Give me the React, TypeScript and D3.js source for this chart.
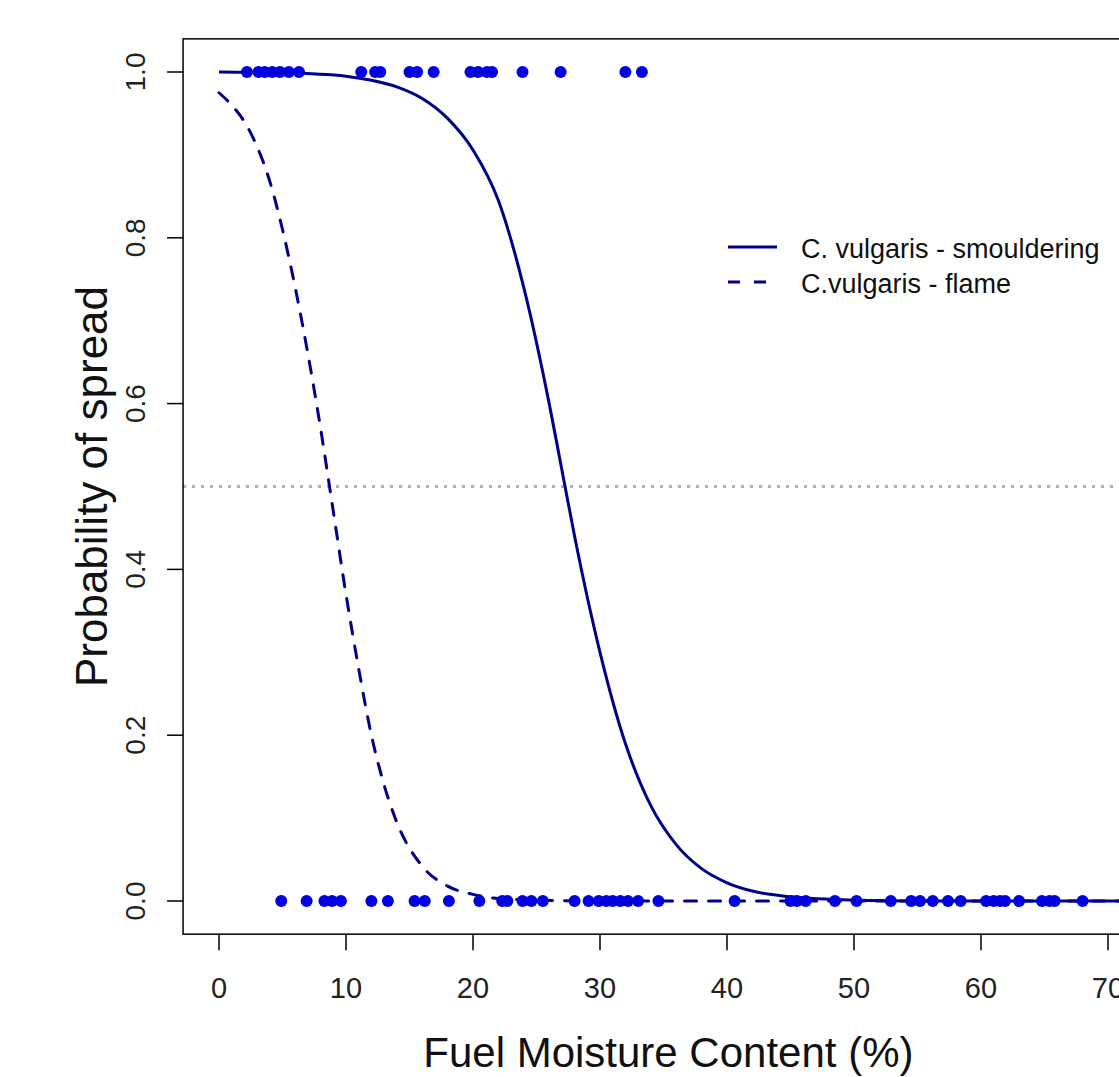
import React, { useRef, useEffect } from 'react';
import * as d3 from 'd3';

// observed spread (1) / no spread (0) at fuel moisture content (%)
const spreadX = [2.2, 3.1, 3.6, 4.2, 4.8, 5.5, 6.3, 11.2, 12.3, 12.7, 15.0, 15.6, 16.9, 19.8, 20.4, 21.1, 21.5, 23.9, 26.9, 32.0, 33.3];
const noSpreadX = [4.9, 6.9, 8.3, 8.9, 9.6, 12.0, 13.3, 15.4, 16.2, 18.1, 20.5, 22.3, 22.7, 23.9, 24.6, 25.5, 28.0, 29.1, 29.9, 30.5, 31.0, 31.6, 32.2, 33.0, 34.6,
  40.6, 45.0, 45.5, 46.2, 48.5, 50.2, 52.9, 54.5, 55.2, 56.2, 57.4, 58.4, 60.4, 61.0, 61.5, 61.9, 63.0, 64.8, 65.4, 65.8, 68.0];

// fitted curves
const smoulderX = [0, 5, 10, 12, 14, 16, 18, 20, 22, 24, 26, 27, 28, 30, 32, 34, 36, 38, 40, 42, 45, 50, 55, 60, 65, 72];
const smoulderP = [1.0, 0.999, 0.995, 0.99, 0.982, 0.968, 0.944, 0.906, 0.845, 0.74, 0.6, 0.52, 0.44, 0.3, 0.19, 0.115, 0.068, 0.039, 0.022, 0.012, 0.005, 0.001, 0, 0, 0, 0];
const flameX = [0, 1, 2, 3, 4, 5, 6, 7, 8, 9, 10, 11, 12, 13, 14, 16, 18, 20, 22, 25, 30, 40, 50, 60, 72];
const flameP = [0.975, 0.96, 0.94, 0.91, 0.868, 0.81, 0.74, 0.66, 0.57, 0.47, 0.37, 0.28, 0.2, 0.14, 0.095, 0.042, 0.018, 0.008, 0.003, 0.001, 0, 0, 0, 0, 0];

const xTicks = [0, 10, 20, 30, 40, 50, 60, 70];
const yTicks = [0, 0.2, 0.4, 0.6, 0.8, 1.0];

const W = 1119;
const H = 1077;
const font = '"Liberation Sans", Arial, sans-serif';
const lineColor = '#00008b';

const App = () => {
  const svgRef = useRef<SVGSVGElement>(null);

  useEffect(() => {
    const svg = d3.select(svgRef.current);
    svg.selectAll('*').remove();

    const x = d3.scaleLinear().domain([0, 70]).range([219, 1108]);
    const y = d3.scaleLinear().domain([0, 1]).range([901, 72]);
    const left = x(-2.83), right = x(73.6), top = y(1.04), bottom = y(-0.04);

    svg.append('rect').attr('width', W).attr('height', H).attr('fill', '#fff');

    // 0.5 reference line
    svg.append('line')
      .attr('x1', left).attr('x2', right)
      .attr('y1', y(0.5)).attr('y2', y(0.5))
      .attr('stroke', '#b0b0b0').attr('stroke-width', 3)
      .attr('stroke-dasharray', '3,6');

    const line = d3.line<[number, number]>()
      .x(d => x(d[0])).y(d => y(d[1]))
      .curve(d3.curveMonotoneX);

    svg.append('path')
      .attr('d', line(flameX.map((v, i) => [v, flameP[i]])))
      .attr('fill', 'none').attr('stroke', lineColor).attr('stroke-width', 3)
      .attr('stroke-linecap', 'round')
      .attr('stroke-dasharray', '12,12');

    svg.append('path')
      .attr('d', line(smoulderX.map((v, i) => [v, smoulderP[i]])))
      .attr('fill', 'none').attr('stroke', lineColor).attr('stroke-width', 3);

    // observations
    svg.append('g').selectAll('circle')
      .data([...spreadX.map(v => [v, 1]), ...noSpreadX.map(v => [v, 0])])
      .enter().append('circle')
      .attr('cx', d => x(d[0])).attr('cy', d => y(d[1]))
      .attr('r', 6).attr('fill', '#0000e0');

    // box
    svg.append('rect')
      .attr('x', left).attr('y', top)
      .attr('width', right - left).attr('height', bottom - top)
      .attr('fill', 'none').attr('stroke', '#000').attr('stroke-width', 1.5);

    // x axis
    const gx = svg.append('g');
    xTicks.forEach(t => {
      gx.append('line').attr('x1', x(t)).attr('x2', x(t))
        .attr('y1', bottom).attr('y2', bottom + 16)
        .attr('stroke', '#000').attr('stroke-width', 1.5);
      gx.append('text').attr('x', x(t)).attr('y', 998)
        .attr('text-anchor', 'middle').attr('font-family', font)
        .attr('font-size', 29).attr('fill', '#222').text(t);
    });

    // y axis
    const gy = svg.append('g');
    yTicks.forEach(t => {
      gy.append('line').attr('x1', left - 16).attr('x2', left)
        .attr('y1', y(t)).attr('y2', y(t))
        .attr('stroke', '#000').attr('stroke-width', 1.5);
      gy.append('text')
        .attr('transform', `translate(145,${y(t)})rotate(-90)`)
        .attr('text-anchor', 'middle').attr('font-family', font)
        .attr('font-size', 28).attr('fill', '#222').text(t.toFixed(1));
    });

    // titles
    svg.append('text').attr('x', (left + right) / 2).attr('y', 1067)
      .attr('text-anchor', 'middle').attr('font-family', font)
      .attr('font-size', 42).attr('fill', '#111')
      .text('Fuel Moisture Content (%)');
    svg.append('text')
      .attr('transform', `translate(107,${(top + bottom) / 2})rotate(-90)`)
      .attr('text-anchor', 'middle').attr('font-family', font)
      .attr('font-size', 44).attr('fill', '#111')
      .text('Probability of spread');

    // legend
    const legend = [
      { label: 'C. vulgaris - smouldering', dash: null },
      { label: 'C.vulgaris - flame', dash: '12,14' },
    ];
    legend.forEach((d, i) => {
      const ly = 247 + i * 35;
      svg.append('line').attr('x1', 728).attr('x2', 777)
        .attr('y1', ly).attr('y2', ly)
        .attr('stroke', lineColor).attr('stroke-width', 3)
        .attr('stroke-dasharray', d.dash);
      svg.append('text').attr('x', 801).attr('y', ly + 11)
        .attr('font-family', font).attr('font-size', 27).attr('fill', '#111')
        .text(d.label);
    });
  }, []);

  return (
    <svg ref={svgRef} width={W} height={H}
      style={{ position: 'absolute', left: 0, top: 0 }} />
  );
};

export default App;
